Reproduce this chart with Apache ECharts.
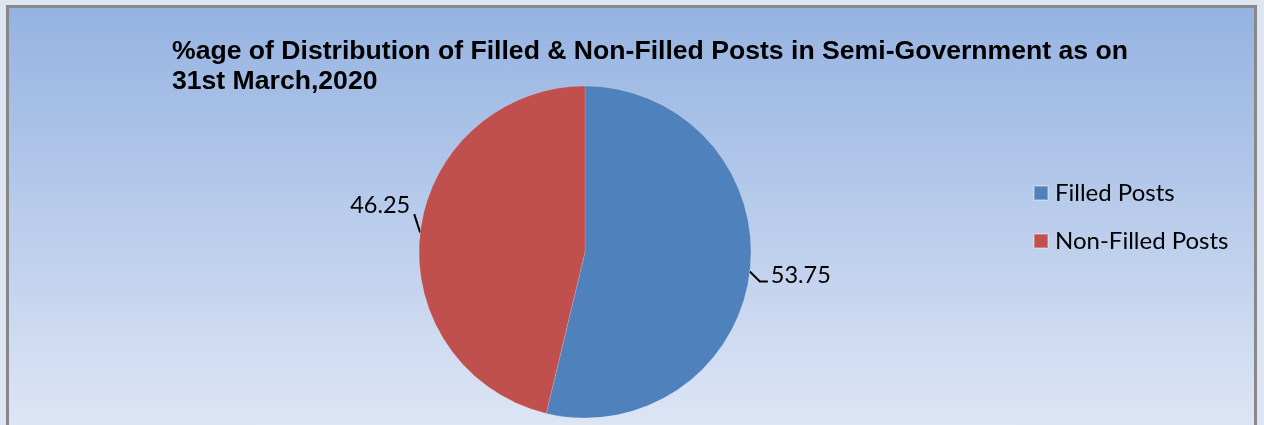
<!DOCTYPE html>
<html>
<head>
<meta charset="utf-8">
<script src="https://cdn.jsdelivr.net/npm/echarts@6/dist/echarts.min.js"></script>
<style>
    html, body { margin: 0; padding: 0; background: #dce5f1; overflow: hidden; }
    #frame {
        position: absolute; left: 6px; top: 5px; width: 1245px; height: 440px;
        border: 3px solid #888888; border-bottom: none;
        background: linear-gradient(to bottom, #95b3e1 0%, #e1e8f6 100%);
    }
    #main { position: absolute; left: 0; top: 0; width: 1264px; height: 425px; }
</style>
</head>
<body>
<div id="frame"></div>
<div id="main"></div>
<script>
    var titleText = '%age of Distribution of Filled & Non-Filled Posts in Semi-Government as on\n31st March,2020';
    var categories = ['Filled Posts', 'Non-Filled Posts'];
    var values = [53.75, 46.25];
    var colors = ['#4f81bd', '#c0504d'];

    var chart = echarts.init(document.getElementById('main'));
    var pieData = categories.map(function (name, i) {
        return { name: name, value: values[i] };
    });

    chart.setOption({
        backgroundColor: 'transparent',
        color: colors,
        title: {
            text: titleText,
            left: 167,
            top: 32,
            textStyle: {
                fontFamily: 'Liberation Sans',
                fontWeight: 'bold',
                fontSize: 26.6,
                lineHeight: 30,
                color: '#000'
            }
        },
        legend: {
            orient: 'vertical',
            left: 1028,
            top: 176,
            itemWidth: 14,
            itemHeight: 14,
            itemGap: 24,
            icon: 'rect',
            textStyle: {
                fontFamily: 'Lato',
                fontSize: 24,
                lineHeight: 24,
                color: '#000',
                padding: [0, 0, 0, 2]
            },
            data: categories
        },
        series: [{
            type: 'pie',
            center: [585, 252],
            radius: 166,
            startAngle: 90,
            clockwise: true,
            avoidLabelOverlap: false,
            label: {
                show: true,
                formatter: '{c}',
                fontFamily: 'Lato',
                fontSize: 23.5,
                color: '#000'
            },
            labelLine: {
                show: true,
                length: 12,
                length2: 8,
                lineStyle: { color: '#000', width: 2 }
            },
            labelLayout: function (params) {
                // bend the leader lines the way the original does
                var p0 = params.labelLinePoints ? params.labelLinePoints[0] : null;
                var r = params.labelRect;
                if (params.dataIndex === 1) {
                    var dx = 15, dy = -26;
                    var out = { dx: dx, dy: dy };
                    if (p0) {
                        var end = [r.x + r.width + dx + 4, r.y + r.height + dy - 3];
                        out.labelLinePoints = [[p0[0], p0[1]], end, end];
                    }
                    return out;
                }
                var o = { dx: -4, dy: 3 };
                if (p0) {
                    var mid = [p0[0] + 10, p0[1] + 10];
                    o.labelLinePoints = [[p0[0], p0[1]], mid, [mid[0] + 8, mid[1]]];
                }
                return o;
            },
            itemStyle: { borderColor: 'rgba(255,255,255,0.3)', borderWidth: 0.5 },
            emphasis: { disabled: true },
            data: pieData
        }]
    });
</script>
</body>
</html>
